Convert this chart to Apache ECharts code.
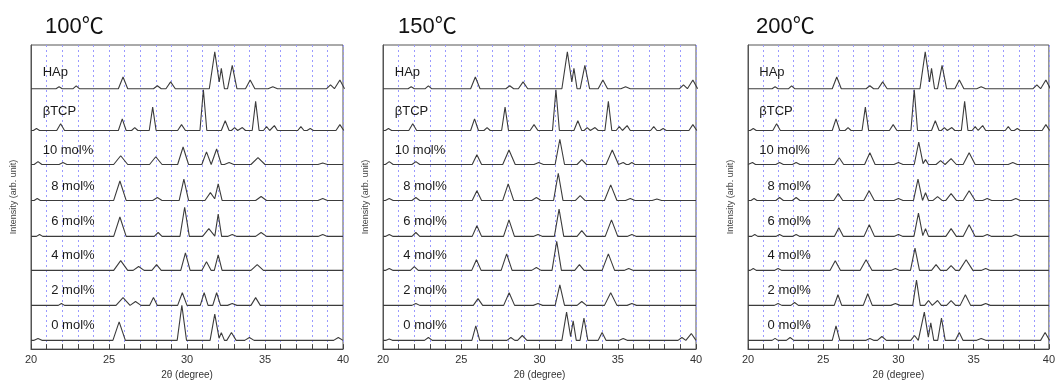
<!DOCTYPE html>
<html>
<head>
<meta charset="utf-8">
<script src="https://cdn.jsdelivr.net/npm/echarts@6/dist/echarts.min.js"></script>
<style>
html,body{margin:0;padding:0;background:#fff;}
#c{width:1058px;height:385px;}
</style>
</head>
<body>
<div id="c"></div>
<script>
// ---- data ----
const panelTitles = ['100\u2103', '150\u2103', '200\u2103'];
const traceNames = ['HAp', '\u03b2TCP', '10 mol%', '8 mol%', '6 mol%', '4 mol%', '2 mol%', '0 mol%'];
const traceOffsets = [268, 225, 190, 153, 116, 81, 45, 9];
const xTicks = [20, 25, 30, 35, 40];

// peaks: [2theta, intensity, half-width]
const hapPeaks = [[21.8,2,0.2],[22.9,3,0.2],[25.9,12,0.3],[28.1,3,0.25],[28.95,7,0.3],[31.78,38,0.35],[32.2,21,0.2],[32.9,24,0.3],[34.05,9,0.3],[35.5,2,0.3],[39.2,4,0.25],[39.8,9,0.3]];
const tcpPeaks = [[20.35,2,0.2],[21.9,7,0.25],[25.85,12,0.25],[26.65,3,0.2],[27.8,24,0.22],[29.65,6,0.25],[31.05,42,0.22],[32.45,10,0.25],[33.05,3,0.2],[33.55,3,0.2],[34.4,30,0.22],[35.1,4,0.2],[35.6,5,0.2],[37.3,4,0.2],[37.9,2,0.2],[39.8,6,0.25]];

const p100_10 = [[20.45,3,0.25],[22.05,2,0.25],[25.75,9,0.45],[28.0,8,0.4],[29.75,18,0.35],[31.25,13,0.3],[31.9,16,0.3],[32.7,2,0.3],[34.55,7,0.45],[38.7,1.5,0.3]];
const p100_8 = [[20.4,2,0.2],[25.7,20,0.4],[28.1,3,0.3],[29.8,22,0.3],[31.5,8,0.35],[32.0,17,0.25],[34.75,4,0.35],[38.7,2,0.3]];
const p100_6 = [[20.55,2,0.2],[25.7,20,0.4],[28.15,4,0.25],[29.85,30,0.3],[31.4,8,0.4],[32.0,23,0.22],[32.9,2,0.3],[34.75,4,0.35],[38.7,2,0.3]];
const p100_4 = [[25.75,10,0.45],[26.9,4,0.35],[28.05,6,0.3],[29.9,18,0.3],[31.25,9,0.3],[32.0,16,0.25],[34.5,6,0.4]];
const p100_2 = [[21.95,2,0.2],[25.9,8,0.45],[26.7,4,0.35],[27.85,8,0.25],[29.7,13,0.3],[31.1,13,0.25],[31.9,13,0.25],[32.9,2,0.3],[34.4,8,0.3]];
const p100_0 = [[20.45,2,0.25],[25.65,19,0.4],[29.67,36,0.3],[31.78,27,0.3],[32.2,8,0.2],[32.85,8,0.3],[34.0,3,0.3],[39.7,3,0.3]];

const p150_10 = [[20.4,3,0.25],[22.1,3,0.25],[26.0,10,0.3],[28.05,15,0.4],[29.95,2,0.3],[31.3,26,0.3],[32.7,5,0.3],[34.65,15,0.4],[35.35,2,0.2],[35.9,2,0.2]];
const p150_8 = [[20.4,2,0.25],[22.1,3,0.25],[26.0,10,0.3],[28.0,17,0.35],[29.8,3,0.3],[31.2,28,0.3],[32.6,5,0.3],[34.55,16,0.4],[35.8,2,0.3],[37.5,1.5,0.3]];
const p150_6 = [[20.4,2,0.25],[22.1,4,0.25],[26.0,11,0.3],[28.05,17,0.35],[29.9,2,0.3],[31.25,28,0.3],[32.7,6,0.3],[34.6,17,0.4],[35.9,2,0.3]];
const p150_4 = [[20.4,2,0.25],[22.0,4,0.25],[25.97,11,0.3],[27.9,17,0.35],[29.8,3,0.3],[31.1,30,0.3],[32.55,6,0.3],[34.4,17,0.4],[35.7,2,0.3]];
const p150_2 = [[22.1,2,0.25],[26.07,7,0.3],[28.06,13,0.35],[29.9,2,0.3],[31.3,21,0.3],[32.7,4,0.3],[34.55,13,0.4],[35.9,2,0.3]];
const p150_0 = [[20.4,1.5,0.2],[22.9,3,0.25],[25.93,15,0.25],[28.17,3,0.25],[28.9,5,0.3],[31.73,29,0.3],[32.15,20,0.2],[32.84,23,0.25],[34.0,8,0.25],[35.35,2,0.25],[39.1,3,0.25],[39.7,7,0.3]];

const p200_10 = [[20.3,2,0.2],[22.1,2,0.25],[23.2,2,0.25],[26.06,7,0.3],[28.1,12,0.35],[30.0,2,0.3],[31.35,23,0.3],[31.8,5,0.2],[32.8,4,0.3],[33.5,6,0.35],[34.7,12,0.4],[37.6,2,0.3]];
const p200_8 = [[20.4,2,0.2],[22.1,3,0.25],[23.2,3,0.25],[26.0,7,0.3],[28.05,10,0.35],[30.0,2,0.3],[31.3,22,0.3],[31.8,8,0.2],[32.6,4,0.3],[33.5,7,0.35],[34.7,10,0.4],[35.9,2,0.3],[37.8,2,0.3]];
const p200_6 = [[20.45,2,0.2],[22.1,2,0.25],[23.2,2,0.25],[26.04,9,0.3],[28.06,12,0.35],[30.0,2,0.3],[31.33,24,0.3],[31.8,8,0.2],[33.5,8,0.35],[34.7,12,0.4],[35.9,2,0.3],[37.8,2,0.3]];
const p200_4 = [[20.35,2,0.2],[22.0,2,0.25],[25.8,10,0.35],[27.85,11,0.4],[29.8,2,0.3],[31.1,23,0.3],[32.5,6,0.3],[33.5,5,0.3],[34.5,11,0.45],[35.8,2,0.3]];
const p200_2 = [[22.0,2,0.25],[23.1,3,0.25],[25.98,11,0.25],[27.96,12,0.3],[29.8,2,0.3],[31.2,26,0.25],[32.0,5,0.25],[32.6,5,0.25],[33.5,5,0.3],[34.45,11,0.35],[35.8,2,0.3]];
const p200_0 = [[21.8,2,0.2],[22.8,3,0.25],[25.85,15,0.25],[28.1,2,0.25],[28.9,4,0.3],[31.07,5,0.25],[31.72,29,0.3],[32.15,18,0.2],[32.86,23,0.25],[34.04,8,0.25],[35.5,2,0.3],[39.75,8,0.3]];

const panelPeaks = [
  [hapPeaks, tcpPeaks, p100_10, p100_8, p100_6, p100_4, p100_2, p100_0],
  [hapPeaks, tcpPeaks, p150_10, p150_8, p150_6, p150_4, p150_2, p150_0],
  [hapPeaks, tcpPeaks, p200_10, p200_8, p200_6, p200_4, p200_2, p200_0]
];

// ---- build stick-profile polyline from read peak list ----
function profile(peaks, off) {
  const pts = [[20, off]];
  let prev = null;
  peaks.forEach(p => {
    const c = p[0], h = p[1], w = p[2];
    const L = c - w;
    if (prev && prev[0] + prev[2] > L) {
      const a = prev[1] / prev[2], b = h / w, R = prev[0] + prev[2];
      const x = (a * R + b * L) / (a + b);
      pts.push([x, off + b * (x - L)]);
    } else {
      if (prev) pts.push([prev[0] + prev[2], off]);
      pts.push([Math.max(20, L), off]);
    }
    pts.push([c, off + h]);
    prev = p;
  });
  const end = prev[0] + prev[2];
  pts.push([end, off]);
  if (end < 40) pts.push([40, off]);
  return pts;
}

// ---- layout ----
const grids = [
  {left: 31, top: 45, width: 312, height: 313},
  {left: 383, top: 45, width: 313, height: 313},
  {left: 748, top: 45, width: 310, height: 313}
];
const titleLeft = [45, 398, 756];

const chart = echarts.init(document.getElementById('c'), null, {renderer: 'canvas'});
const FONT = "'Liberation Sans', Arial, 'Noto Sans CJK JP', sans-serif";

const option = {
  animation: false,
  backgroundColor: '#fff',
  title: panelTitles.map((t, i) => ({
    text: t, left: titleLeft[i], top: 16, padding: 0,
    textStyle: {fontSize: 22, fontWeight: 'normal', color: '#111', fontFamily: FONT}
  })),
  grid: grids.map(g => Object.assign({show: true, borderColor: '#555', borderWidth: 1, backgroundColor: 'transparent'}, g)),
  xAxis: grids.map((g, i) => ({
    type: 'value', gridIndex: i, min: 20, max: 40, interval: 1,
    name: '2\u03b8 (degree)', nameLocation: 'middle', nameGap: 17,
    nameTextStyle: {fontSize: 10, color: '#333', fontFamily: FONT},
    axisLine: {show: true, lineStyle: {color: '#444', width: 1}},
    axisTick: {show: true, inside: true, length: 5, lineStyle: {color: '#444'}},
    axisLabel: {fontSize: 11, color: '#333', margin: 5, fontFamily: FONT,
      formatter: v => (xTicks.indexOf(v) >= 0 ? String(v) : '')},
    splitLine: {show: true, lineStyle: {color: '#9a9aff', type: [2, 3], width: 1}}
  })),
  yAxis: grids.map((g, i) => ({
    type: 'value', gridIndex: i, min: 0, max: 313,
    name: 'Intensity (arb. unit)', nameLocation: 'middle', nameGap: 13,
    nameTextStyle: {fontSize: 9, color: '#444', fontFamily: FONT},
    axisLine: {show: true, lineStyle: {color: '#555'}},
    axisTick: {show: false}, axisLabel: {show: false}, splitLine: {show: false}
  })),
  series: []
};

panelPeaks.forEach((traces, gi) => {
  traces.forEach((pk, ti) => {
    option.series.push({
      type: 'line', xAxisIndex: gi, yAxisIndex: gi,
      data: profile(pk, traceOffsets[ti]),
      showSymbol: false, symbol: 'none', clip: true,
      lineStyle: {color: '#3c3c3c', width: 1.1},
      silent: true
    });
  });
});

chart.setOption(option);

// trace labels positioned through the axes
const labelLift = [17, 20, 15, 14, 15, 15, 15, 15];
const graphics = [];
panelPeaks.forEach((traces, gi) => {
  traceNames.forEach((name, ti) => {
    const xv = ti < 3 ? 20.75 : 21.3;
    const p = chart.convertToPixel({gridIndex: gi}, [xv, traceOffsets[ti] + labelLift[ti]]);
    graphics.push({
      type: 'text', x: p[0], y: p[1],
      style: {text: name, fontSize: 13, fill: '#1a1a1a', fontFamily: FONT,
        verticalAlign: 'middle', align: 'left'}
    });
  });
});
chart.setOption({graphic: graphics});
</script>
</body>
</html>
